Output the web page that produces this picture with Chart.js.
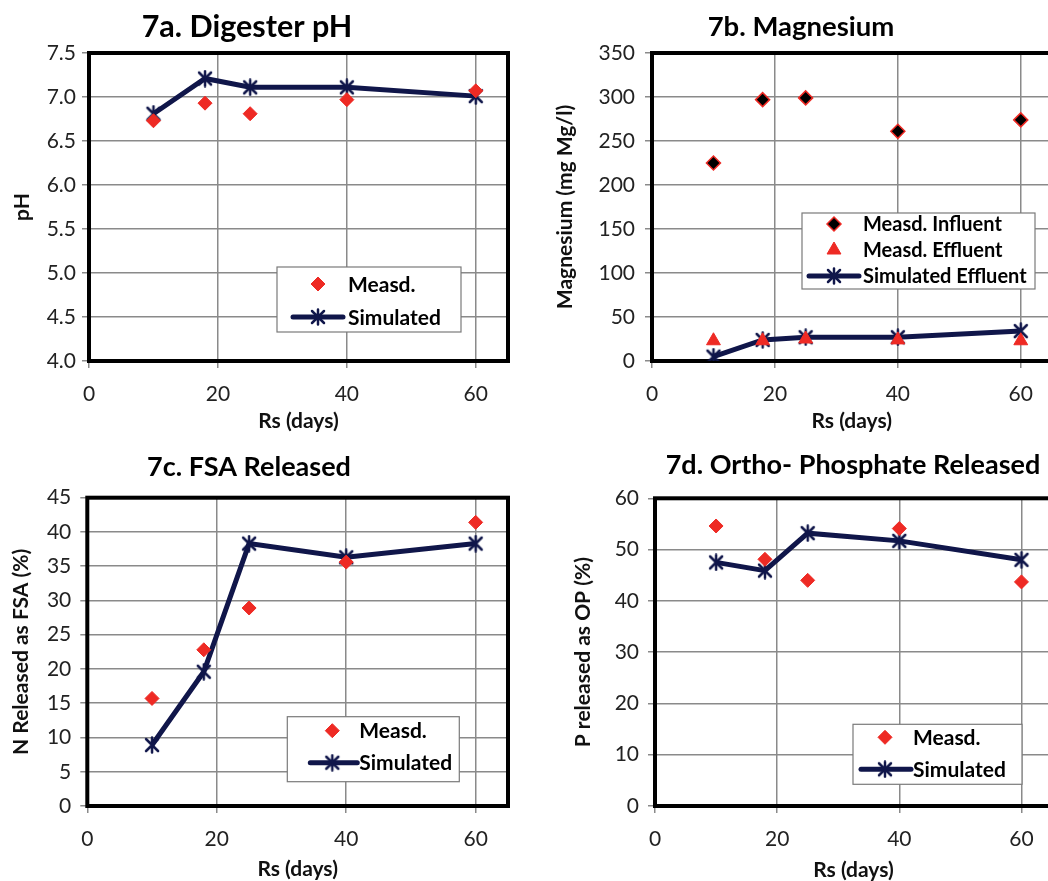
<!DOCTYPE html>
<html lang="en">
<head>
    <meta charset="UTF-8">
    <title>Figure 7</title>
    <script src="https://cdn.jsdelivr.net/npm/chart.js"></script>
    <style>
        html, body { margin: 0; padding: 0; background: #fff; overflow: hidden; }
        body { width: 1048px; height: 881px; position: relative; }
        canvas { position: absolute; }
        #phChart  { left: 0;     top: 0; }
        #mgChart  { left: 524px; top: 0; }
        #fsaChart { left: 0;     top: 440px; }
        #opChart  { left: 524px; top: 440px; }
    </style>
</head>
<body>
    <canvas id="phChart" width="524" height="440"></canvas>
    <canvas id="mgChart" width="544" height="440"></canvas>
    <canvas id="fsaChart" width="524" height="460"></canvas>
    <canvas id="opChart" width="544" height="460"></canvas>
    <script>
    // data
    const RS_DAYS = [10, 18, 25, 40, 60];
    const X_TICKS = [0, 20, 40, 60];

    const PH_MEASD = [6.73, 6.93, 6.81, 6.97, 7.07];
    const PH_SIM = [6.81, 7.21, 7.11, 7.11, 7.01];
    const PH_TICKS = [4.0, 4.5, 5.0, 5.5, 6.0, 6.5, 7.0, 7.5];

    const MG_INFLUENT = [225, 297, 299, 261, 274];
    const MG_EFFLUENT = [23, 23, 25, 24, 23];
    const MG_SIM = [5, 24, 27, 27, 34];
    const MG_TICKS = [0, 50, 100, 150, 200, 250, 300, 350];

    const FSA_MEASD = [15.7, 22.8, 28.9, 35.6, 41.4];
    const FSA_SIM = [8.9, 19.6, 38.3, 36.3, 38.3];
    const FSA_TICKS = [0, 5, 10, 15, 20, 25, 30, 35, 40, 45];

    const OP_MEASD = [54.6, 48.1, 44.0, 54.1, 43.7];
    const OP_SIM = [47.5, 45.9, 53.2, 51.7, 48.0];
    const OP_TICKS = [0, 10, 20, 30, 40, 50, 60];

    const RED = '#ee2a24';
    const NAVY = '#10164a';
    const GRID = '#8a8a8a';
    const FONT = 'Lato, "Open Sans", sans-serif';

    // excel-like asterisk marker (x with a vertical bar)
    const asterisk = document.createElement('canvas');
    asterisk.width = 18;
    asterisk.height = 18;
    (function () {
        const c = asterisk.getContext('2d');
        c.strokeStyle = NAVY;
        c.lineWidth = 2.5;
        c.lineCap = 'round';
        c.beginPath();
        c.moveTo(3, 3); c.lineTo(15, 15);
        c.moveTo(15, 3); c.lineTo(3, 15);
        c.moveTo(9, 1.5); c.lineTo(9, 16.5);
        c.stroke();
    })();

    const pts = (ys) => RS_DAYS.map((x, i) => ({ x: x, y: ys[i] }));

    const measd = (label, ys) => ({
        label: label, data: pts(ys),
        pointStyle: 'rectRot', pointRadius: 7, pointHoverRadius: 7,
        backgroundColor: RED, borderColor: RED, pointBorderWidth: 1
    });
    const simulated = (label, ys) => ({
        label: label, data: pts(ys), showLine: true,
        borderColor: NAVY, backgroundColor: NAVY, borderWidth: 5,
        pointStyle: asterisk, pointRadius: 8, pointBorderWidth: 0
    });

    // plot border, panel title and boxed legend
    const panelDecor = {
        id: 'panelDecor',
        beforeDatasetsDraw(chart) {
            const { ctx, chartArea: a } = chart;
            ctx.save();
            ctx.strokeStyle = '#000';
            ctx.lineWidth = 4;
            ctx.strokeRect(a.left, a.top, a.right - a.left, a.bottom - a.top);
            ctx.restore();
        },
        afterDraw(chart, args, opts) {
            const { ctx, chartArea: a } = chart;
            ctx.save();
            ctx.fillStyle = '#000';
            ctx.font = 'bold ' + opts.titleSize + 'px ' + FONT;
            ctx.textAlign = 'center';
            ctx.textBaseline = 'middle';
            ctx.fillText(opts.title, opts.titleX, opts.titleY);

            const L = opts.legend;
            const bx = a.left + L.dx, by = a.top + L.dy;
            ctx.fillStyle = '#fff';
            ctx.fillRect(bx, by, L.w, L.h);
            ctx.strokeStyle = '#7a7a7a';
            ctx.lineWidth = 1.2;
            ctx.strokeRect(bx, by, L.w, L.h);

            chart.data.datasets.forEach((ds, i) => {
                const y = by + L.rows[i];
                if (ds.showLine) {
                    ctx.strokeStyle = ds.borderColor;
                    ctx.lineWidth = ds.borderWidth;
                    ctx.lineCap = 'round';
                    ctx.beginPath();
                    ctx.moveTo(bx + L.line[0], y);
                    ctx.lineTo(bx + L.line[1], y);
                    ctx.stroke();
                }
                ctx.fillStyle = ds.backgroundColor;
                ctx.strokeStyle = ds.borderColor;
                ctx.lineWidth = ds.pointBorderWidth || 0;
                Chart.helpers.drawPoint(ctx, {
                    pointStyle: ds.pointStyle, radius: ds.pointRadius,
                    rotation: 0, borderWidth: ds.pointBorderWidth || 0
                }, bx + L.markerX, y);
                ctx.fillStyle = '#000';
                ctx.font = 'bold ' + L.fontSize + 'px ' + FONT;
                ctx.textAlign = 'left';
                ctx.textBaseline = 'middle';
                ctx.fillText(ds.label, bx + L.textX, y + 1);
            });
            ctx.restore();
        }
    };

    function panel(id, p) {
        const tickFont = { family: FONT, size: 21 };
        const titleFont = { family: FONT, size: 21, weight: 'bold', lineHeight: 1.2 };
        return new Chart(document.getElementById(id), {
            type: 'scatter',
            data: { datasets: p.datasets },
            options: {
                responsive: false,
                animation: false,
                layout: { padding: { top: p.top, right: p.right, left: 0, bottom: 0 } },
                plugins: {
                    legend: { display: false },
                    tooltip: { enabled: false },
                    panelDecor: {
                        title: p.title, titleX: p.titleX, titleY: p.titleY, titleSize: p.titleSize,
                        legend: p.legend
                    }
                },
                scales: {
                    x: {
                        type: 'linear', min: 0, max: 65,
                        afterBuildTicks: s => { s.ticks = X_TICKS.map(v => ({ value: v })); },
                        afterFit: s => { s.height = p.xH; },
                        grid: { color: GRID, lineWidth: 1.5, tickLength: 7 },
                        border: { display: false },
                        ticks: { font: tickFont, color: '#222', padding: 14, maxRotation: 0 },
                        title: { display: true, text: 'Rs (days)', font: titleFont, color: '#111',
                                 padding: { top: 0, bottom: p.xTitlePad } }
                    },
                    y: {
                        type: 'linear', min: p.yTicks[0], max: p.yTicks[p.yTicks.length - 1],
                        afterBuildTicks: s => { s.ticks = p.yTicks.map(v => ({ value: v })); },
                        afterFit: s => { s.width = p.yW; },
                        grid: { color: GRID, lineWidth: 1.5, tickLength: 7 },
                        border: { display: false },
                        ticks: { font: tickFont, color: '#222', padding: p.yTickPad,
                                 callback: v => p.decimals ? v.toFixed(p.decimals) : String(v) },
                        title: { display: true, text: p.yTitle, font: titleFont, color: '#111',
                                 padding: { top: p.yTitlePad, bottom: 0 } }
                    }
                }
            },
            plugins: [panelDecor]
        });
    }

    panel('phChart', {
        title: '7a. Digester pH', titleX: 247, titleY: 27, titleSize: 30.5,
        top: 53, right: 16, yW: 89, xH: 79, xTitlePad: 6, yTitlePad: 10, yTickPad: 6,
        yTicks: PH_TICKS, decimals: 1, yTitle: 'pH',
        datasets: [measd('Measd.', PH_MEASD), simulated('Simulated', PH_SIM)],
        legend: { dx: 188, dy: 214, w: 184, h: 65, rows: [17, 50], markerX: 41, textX: 71, line: [16, 66], fontSize: 21 }
    });

    panel('mgChart', {
        title: '7b. Magnesium', titleX: 277, titleY: 27, titleSize: 27.5,
        top: 53, right: 16.5, yW: 128, xH: 79, xTitlePad: 6, yTitlePad: 29, yTickPad: 10,
        yTicks: MG_TICKS, decimals: 0, yTitle: 'Magnesium (mg Mg/l)',
        datasets: [
            { label: 'Measd. Influent', data: pts(MG_INFLUENT), pointStyle: 'rectRot', pointRadius: 7,
              backgroundColor: '#000', borderColor: RED, pointBorderWidth: 1.5 },
            { label: 'Measd. Effluent', data: pts(MG_EFFLUENT), pointStyle: 'triangle', pointRadius: 8,
              backgroundColor: RED, borderColor: RED, pointBorderWidth: 1 },
            simulated('Simulated Effluent', MG_SIM)
        ],
        legend: { dx: 150, dy: 160, w: 233, h: 76, rows: [11, 37, 63], markerX: 32, textX: 61, line: [7, 57], fontSize: 20 }
    });

    panel('fsaChart', {
        title: '7c. FSA Released', titleX: 249, titleY: 27, titleSize: 27,
        top: 57.7, right: 16, yW: 87.3, xH: 94, xTitlePad: 18, yTitlePad: 9, yTickPad: 9,
        yTicks: FSA_TICKS, decimals: 0, yTitle: 'N Released as FSA (%)',
        datasets: [measd('Measd.', FSA_MEASD), simulated('Simulated', FSA_SIM)],
        legend: { dx: 200, dy: 219, w: 172, h: 65, rows: [14, 46], markerX: 45, textX: 72, line: [23, 70], fontSize: 21 }
    });

    panel('opChart', {
        title: '7d. Ortho- Phosphate Released', titleX: 329, titleY: 25, titleSize: 27,
        top: 58.3, right: 16, yW: 131, xH: 94, xTitlePad: 17, yTitlePad: 47, yTickPad: 9,
        yTicks: OP_TICKS, decimals: 0, yTitle: 'P released as OP (%)',
        datasets: [measd('Measd.', OP_MEASD), simulated('Simulated', OP_SIM)],
        legend: { dx: 198, dy: 226, w: 169, h: 60, rows: [13, 45], markerX: 32, textX: 60, line: [8, 58], fontSize: 21 }
    });
    </script>
</body>
</html>
